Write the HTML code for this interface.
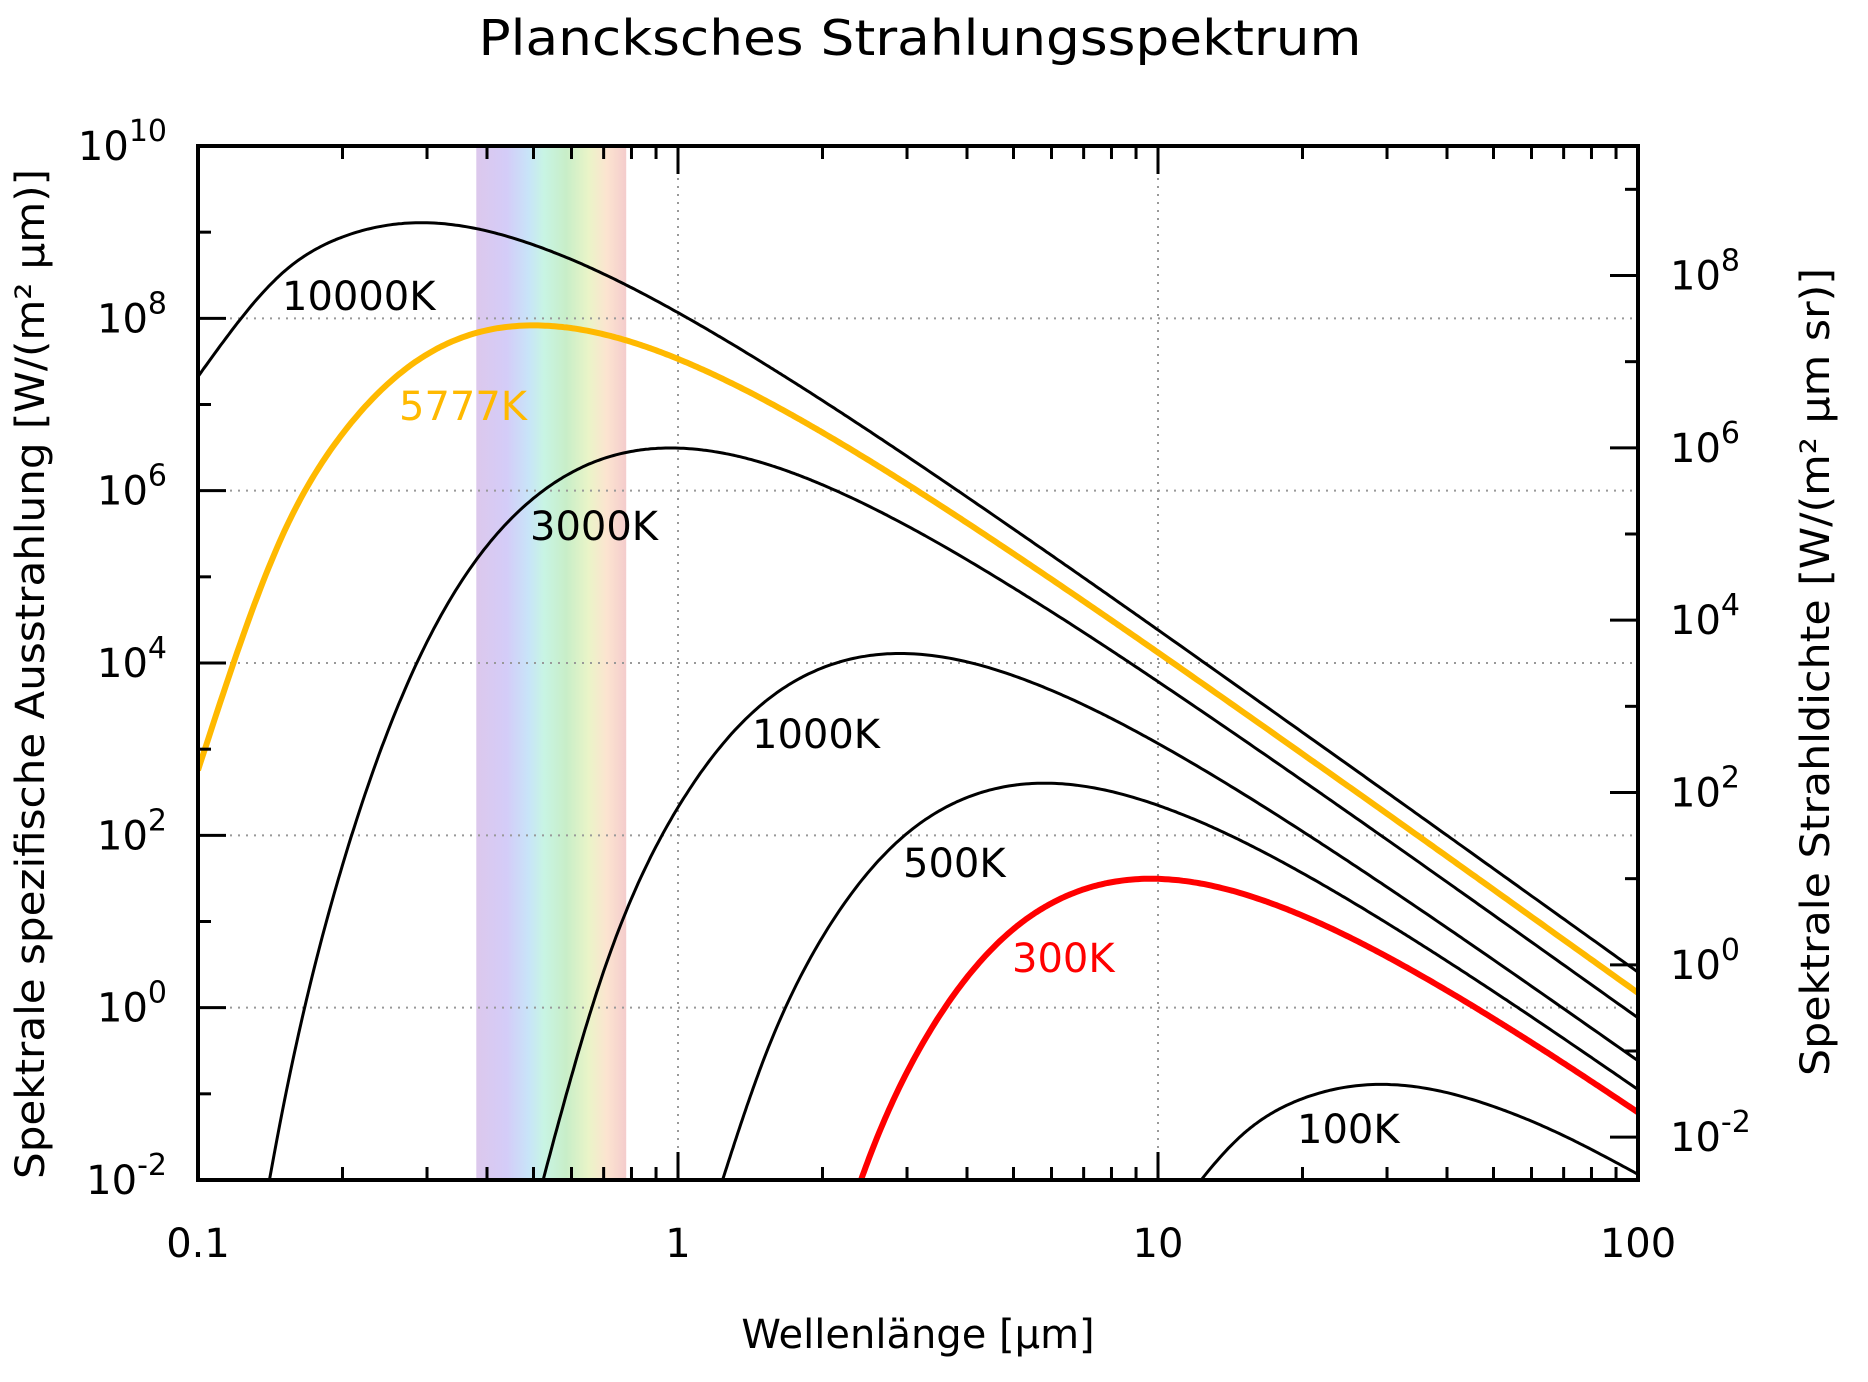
<!DOCTYPE html>
<html><head><meta charset="utf-8"><style>
html,body{margin:0;padding:0;background:#fff;overflow:hidden;width:1868px;height:1382px;}
svg{display:block;font-family:"DejaVu Sans","Liberation Sans",sans-serif;}
</style></head><body>
<svg id="chart" width="1868" height="1382" viewBox="0 0 1868 1382" xmlns="http://www.w3.org/2000/svg">
<defs>
<linearGradient id="spec" x1="0" x2="1" y1="0" y2="0">
<stop offset="0" stop-color="#dcc8ec"/><stop offset="0.2" stop-color="#d4ccf8"/>
<stop offset="0.35" stop-color="#c8e4f8"/><stop offset="0.45" stop-color="#c8f4e4"/>
<stop offset="0.6" stop-color="#c8eec8"/><stop offset="0.75" stop-color="#eaf4c8"/>
<stop offset="0.87" stop-color="#fce4d0"/><stop offset="1" stop-color="#f4cccc"/>
</linearGradient>
<clipPath id="plotclip"><rect x="198" y="146" width="1440" height="1034"/></clipPath>
</defs>
<text x="920" y="55" text-anchor="middle" font-size="49" textLength="883" lengthAdjust="spacingAndGlyphs">Plancksches Strahlungsspektrum</text>
<g id="band"></g>
<g id="grid"></g>
<g id="curves" clip-path="url(#plotclip)"></g>
<g id="axes"></g>
<g id="labels"></g>
<text x="918" y="1348" text-anchor="middle" font-size="40">Wellenlänge [µm]</text>
<text transform="translate(44,674) rotate(-90)" text-anchor="middle" font-size="40" textLength="1010" lengthAdjust="spacingAndGlyphs">Spektrale spezifische Ausstrahlung [W/(m² µm)]</text>
<text transform="translate(1829,672) rotate(-90)" text-anchor="middle" font-size="40" textLength="808" lengthAdjust="spacingAndGlyphs">Spektrale Strahldichte [W/(m² µm sr)]</text>
</svg>
<script>
// wavelengths (µm) and log10 spectral exitance (W/(m² µm)) per curve
const wl10000 = [0.1,0.15,0.2,0.3,0.5,0.7,1,1.5,2,3,5,7,10,20,30,50,100];
const logM10000 = [7.324,8.527,8.944,9.109,8.853,8.515,8.066,7.486,7.046,6.399,5.555,4.990,4.384,3.195,2.497,1.613,0.412];
const wl5777 = [0.1,0.15,0.2,0.3,0.5,0.7,1,1.5,2,3,5,7,10,20,30,50,100];
const logM5777 = [2.756,5.482,6.660,7.582,7.918,7.815,7.529,7.064,6.675,6.076,5.268,4.717,4.122,2.945,2.251,1.370,0.171];
const wl3000 = [0.1,0.15,0.2,0.3,0.5,0.7,1,1.5,2,3,5,7,10,20,30,50,100];
const logM3000 = [-7.256,-1.193,1.654,4.245,5.912,6.373,6.494,6.323,6.068,5.592,4.871,4.355,3.784,2.635,1.949,1.075,-0.118];
const wl1000 = [0.5,0.7,1,1.5,2,3,5,7,10,20,30,50,100];
const logM1000 = [-2.419,0.421,2.324,3.527,3.944,4.109,3.853,3.515,3.066,2.046,1.399,0.555,-0.616];
const wl500 = [1.2,1.5,2,3,4,6,10,14,20,30,40,60,100];
const logM500 = [-2.237,-0.638,0.819,2.022,2.439,2.604,2.348,2.010,1.561,0.981,0.541,-0.106,-0.950];
const wl300 = [2,2.5,3.333,5,6.667,10,16.67,23.33,33.33,50,66.67,100];
const logM300 = [-3.346,-1.747,-0.290,0.913,1.330,1.495,1.239,0.901,0.452,-0.128,-0.568,-1.215];
const wl100 = [10,15,20,30,50,70,100];
const logM100 = [-2.676,-1.473,-1.056,-0.891,-1.147,-1.485,-1.934];
const xTickLabels = ["0.1","1","10","100"];
const yLeftExps = [-2,0,2,4,6,8,10];
const yRightExps = [-2,0,2,4,6,8];
const curveNames = ["10000K","5777K","3000K","1000K","500K","300K","100K"];

const NS="http://www.w3.org/2000/svg";
const PL=198, PR=1638, PT=146, PB=1180;
const xs = l => PL + (Math.log10(l) + 1) / 3 * (PR - PL);
const ys = lg => PB - (lg + 2) / 12 * (PB - PT);
const ysR = lg => ys(lg + Math.log10(Math.PI));
function mk(tag, attrs, parent){const e=document.createElementNS(NS,tag);for(const k in attrs)e.setAttribute(k,attrs[k]);parent.appendChild(e);return e;}
const g = id => document.getElementById(id);

const b = mk('rect',{x:xs(0.38),y:PT,width:xs(0.78)-xs(0.38),height:PB-PT,fill:'url(#spec)'},g('band'));



for(const l of [1,10]){
  const e=mk('line',{x1:xs(l),x2:xs(l),y1:PT,y2:PB,stroke:'#999','stroke-width':2,'stroke-dasharray':'2 6'},g('grid'));
  
  
}
for(const p of [0,2,4,6,8]){
  const e=mk('line',{x1:PL,x2:PR,y1:ys(p),y2:ys(p),stroke:'#999','stroke-width':2,'stroke-dasharray':'2 6'},g('grid'));
  
  
}

function pathFor(wl, lm){
  const X = wl.map(l=>Math.log10(l)), Y = lm.slice(), n = X.length;
  const h=[], al=[0], l=[1], mu=[0], z=[0], c=new Array(n).fill(0), bb=[], d=[];
  for(let i=0;i<n-1;i++) h.push(X[i+1]-X[i]);
  for(let i=1;i<n-1;i++) al.push(3/h[i]*(Y[i+1]-Y[i]) - 3/h[i-1]*(Y[i]-Y[i-1]));
  for(let i=1;i<n-1;i++){
    l[i]=2*(X[i+1]-X[i-1])-h[i-1]*mu[i-1];
    mu[i]=h[i]/l[i];
    z[i]=(al[i]-h[i-1]*z[i-1])/l[i];
  }
  for(let j=n-2;j>=0;j--){
    c[j]=(j<n-1&&j>0? z[j]-mu[j]*c[j+1] : 0);
    bb[j]=(Y[j+1]-Y[j])/h[j]-h[j]*(c[j+1]+2*c[j])/3;
    d[j]=(c[j+1]-c[j])/(3*h[j]);
  }
  let s='';
  for(let i=0;i<n-1;i++){
    const steps=30;
    for(let k=(i===0?0:1);k<=steps;k++){
      const t=h[i]*k/steps;
      const yv=Y[i]+bb[i]*t+c[i]*t*t+d[i]*t*t*t;
      const px=xs(Math.pow(10,X[i]+t)), py=ys(yv);
      s+=(s?' L':'M')+px.toFixed(1)+','+py.toFixed(1);
    }
  }
  return s;
}
const series = [[wl10000,logM10000,'#000',3],[wl5777,logM5777,'#ffb900',6],[wl3000,logM3000,'#000',3],[wl1000,logM1000,'#000',3],[wl500,logM500,'#000',3],[wl300,logM300,'#ff0000',6],[wl100,logM100,'#000',3]];
series.forEach((s,i)=>{
  const e=mk('path',{d:pathFor(s[0],s[1]),fill:'none',stroke:s[2],'stroke-width':s[3],'stroke-linejoin':'round'},g('curves'));
  
  
});

const labPos=[[282,310,'#000'],[399,420,'#ffb900'],[530,540,'#000'],[752,748,'#000'],[903,877,'#000'],[1012,972,'#ff0000'],[1297,1143,'#000']];
curveNames.forEach((n,i)=>{
  const t=mk('text',{x:labPos[i][0],y:labPos[i][1],'font-size':40,fill:labPos[i][2]},g('labels'));
  t.textContent=n;
  
  
});

const fr=mk('rect',{x:PL,y:PT,width:PR-PL,height:PB-PT,fill:'none',stroke:'#000','stroke-width':4},g('axes'));


const ticks=mk('g',{stroke:'#000','stroke-width':3},g('axes'));


for(let dd=-1; dd<2; dd++){
  for(let m=1;m<=9;m++){
    const x=xs(m*Math.pow(10,dd)); const L=m===1?28:13;
    if(m===1 && dd===-1) continue;
    mk('line',{x1:x,x2:x,y1:PB,y2:PB-L},ticks);
    mk('line',{x1:x,x2:x,y1:PT,y2:PT+L},ticks);
  }
}
xTickLabels.forEach((s,i)=>{
  const t=mk('text',{x:xs(Math.pow(10,i-1)),y:1257,'text-anchor':'middle','font-size':40},g('labels'));
  t.textContent=s;
  
  
});
for(let p=-1;p<10;p++){
  const L=(p%2===0)?28:13;
  mk('line',{x1:PL,x2:PL+L,y1:ys(p),y2:ys(p)},ticks);
}
yLeftExps.forEach(p=>{
  const t=mk('text',{x:167,y:ys(p)+14,'text-anchor':'end','font-size':40},g('labels'));
  t.innerHTML='10<tspan font-size="30" dy="-19">'+p+'</tspan>';
  
  
});
for(let p=-2;p<=9;p++){
  const y=ysR(p); if(y<PT||y>PB) continue;
  const L=(p%2===0)?28:13;
  mk('line',{x1:PR,x2:PR-L,y1:y,y2:y},ticks);
}
yRightExps.forEach(p=>{
  const t=mk('text',{x:1670,y:ysR(p)+14,'text-anchor':'start','font-size':40},g('labels'));
  t.innerHTML='10<tspan font-size="30" dy="-19">'+p+'</tspan>';
  
  
});
</script>
</body></html>
